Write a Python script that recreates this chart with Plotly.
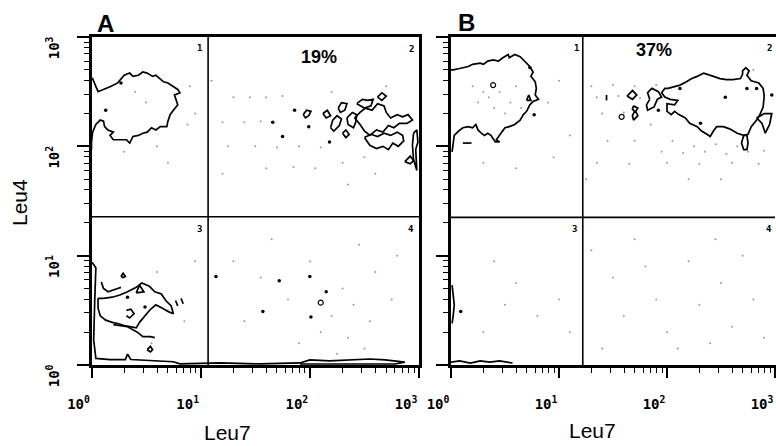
import plotly.graph_objects as go

# ---------------- data (log10 decade units of fluorescence) ----------------
# Panel A, quadrant 1 contour
A_Q1_X = [0.00, 0.01, 0.06, 0.11, 0.18, 0.24, 0.27, 0.30, 0.35, 0.38, 0.43, 0.47, 0.51, 0.56, 0.59, 0.63, 0.66, 0.70, 0.75, 0.79, 0.81, 0.76, 0.78, 0.79, 0.75, 0.72, 0.70, 0.69, 0.63, 0.59, 0.55, 0.51, 0.47, 0.43, 0.38, 0.35, 0.32, 0.26, 0.20, 0.17, 0.20, 0.15, 0.12, 0.11, 0.08, 0.04, 0.01, 0.00, 0.00]
A_Q1_Y = [2.62, 2.62, 2.50, 2.52, 2.55, 2.58, 2.62, 2.65, 2.67, 2.64, 2.65, 2.68, 2.67, 2.64, 2.65, 2.62, 2.59, 2.58, 2.55, 2.52, 2.49, 2.47, 2.41, 2.38, 2.33, 2.29, 2.23, 2.18, 2.18, 2.15, 2.17, 2.13, 2.12, 2.10, 2.09, 2.03, 2.06, 2.06, 2.06, 2.10, 2.13, 2.15, 2.18, 2.23, 2.24, 2.20, 2.13, 2.04, 1.97]

# Panel A, quadrant 2 fragmented contours
A_Q2_P1_X = [1.94, 1.97, 2.01, 1.99, 1.96, 1.94]
A_Q2_P1_Y = [2.29, 2.33, 2.32, 2.28, 2.26, 2.29]
A_Q2_P2_X = [2.12, 2.16, 2.19, 2.15, 2.12]
A_Q2_P2_Y = [2.30, 2.33, 2.28, 2.26, 2.30]
A_Q2_P3_X = [2.19, 2.21, 2.25, 2.29, 2.27, 2.22, 2.19]
A_Q2_P3_Y = [2.17, 2.24, 2.28, 2.25, 2.19, 2.14, 2.17]
A_Q2_P4_X = [2.26, 2.29, 2.34, 2.32, 2.28, 2.26]
A_Q2_P4_Y = [2.35, 2.40, 2.39, 2.33, 2.31, 2.35]
A_Q2_P5_X = [2.34, 2.39, 2.43, 2.42, 2.40, 2.35, 2.34]
A_Q2_P5_Y = [2.26, 2.31, 2.29, 2.22, 2.17, 2.20, 2.26]
A_Q2_P6_X = [2.43, 2.48, 2.53, 2.58, 2.56, 2.50, 2.43]
A_Q2_P6_Y = [2.39, 2.43, 2.42, 2.43, 2.37, 2.35, 2.39]
A_Q2_P7_X = [2.41, 2.46, 2.51, 2.57, 2.62, 2.68, 2.70, 2.74, 2.80, 2.85, 2.90, 2.94, 2.89, 2.82, 2.77, 2.72, 2.67, 2.61, 2.55, 2.50, 2.46, 2.41]
A_Q2_P7_Y = [2.26, 2.31, 2.35, 2.33, 2.39, 2.37, 2.31, 2.26, 2.29, 2.27, 2.29, 2.24, 2.21, 2.21, 2.17, 2.19, 2.13, 2.15, 2.10, 2.14, 2.20, 2.26]
A_Q2_P8_X = [2.50, 2.56, 2.62, 2.68, 2.74, 2.80, 2.85, 2.86, 2.81, 2.76, 2.72, 2.67, 2.61, 2.55, 2.50]
A_Q2_P8_Y = [2.08, 2.11, 2.09, 2.12, 2.10, 2.13, 2.10, 2.05, 2.00, 2.03, 1.97, 2.00, 1.98, 2.01, 2.08]
A_Q2_P9_X = [2.87, 2.92, 2.95, 2.92, 2.87]
A_Q2_P9_Y = [1.86, 1.91, 1.87, 1.84, 1.86]
A_Q2_P10_X = [2.95, 2.98, 2.99, 2.97, 2.98, 2.95, 2.94, 2.95]
A_Q2_P10_Y = [2.12, 2.15, 2.04, 1.97, 1.78, 1.88, 2.01, 2.12]
A_Q2_P11_X = [2.62, 2.66, 2.70, 2.66, 2.62]
A_Q2_P11_Y = [2.45, 2.49, 2.46, 2.42, 2.45]
A_Q2_P12_X = [2.30, 2.33, 2.36, 2.33, 2.30]
A_Q2_P12_Y = [2.12, 2.15, 2.11, 2.08, 2.12]

# Panel A, quadrant 3 contours
A_Q3_OUT_X = [0.005, 0.04, 0.03, 0.02, 0.04, 0.17, 0.31, 0.33, 0.36, 0.54, 0.75, 0.81, 1.18, 1.54, 1.91]
A_Q3_OUT_Y = [0.94, 0.89, 0.60, 0.23, 0.06, 0.05, 0.05, 0.10, 0.05, 0.04, 0.03, 0.01, 0.02, 0.01, 0.02]
A_Q3_BLOB_X = [0.06, 0.11, 0.19, 0.26, 0.33, 0.41, 0.46, 0.53, 0.58, 0.64, 0.68, 0.73, 0.75, 0.70, 0.65, 0.59, 0.54, 0.49, 0.44, 0.41, 0.35, 0.30, 0.24, 0.19, 0.13, 0.08, 0.06, 0.06]
A_Q3_BLOB_Y = [0.61, 0.61, 0.62, 0.64, 0.67, 0.71, 0.75, 0.72, 0.67, 0.65, 0.59, 0.54, 0.47, 0.49, 0.52, 0.55, 0.51, 0.45, 0.39, 0.34, 0.35, 0.36, 0.38, 0.39, 0.41, 0.45, 0.52, 0.61]
A_Q3_SQ_X = [0.09, 0.11, 0.15, 0.20, 0.24, 0.27]
A_Q3_SQ_Y = [0.76, 0.70, 0.67, 0.69, 0.70, 0.71]
A_Q3_LOW_X = [0.20, 0.33, 0.42, 0.47, 0.54, 0.58]
A_Q3_LOW_Y = [0.37, 0.35, 0.30, 0.26, 0.26, 0.25]
A_Q3_D1_X = [0.27, 0.29, 0.31, 0.29, 0.27]
A_Q3_D1_Y = [0.81, 0.84, 0.81, 0.80, 0.81]
A_Q3_TRI_X = [0.41, 0.44, 0.48, 0.41]
A_Q3_TRI_Y = [0.66, 0.73, 0.67, 0.66]
A_Q3_C_X = [0.32, 0.36, 0.39, 0.35, 0.32]
A_Q3_C_Y = [0.50, 0.51, 0.47, 0.43, 0.45]
A_Q3_D2_X = [0.51, 0.54, 0.56, 0.54, 0.51]
A_Q3_D2_Y = [0.14, 0.17, 0.14, 0.12, 0.14]
A_Q3_MARK_X = [0.77, 0.79, None, 0.82, 0.84]
A_Q3_MARK_Y = [0.59, 0.54, None, 0.61, 0.56]
A_Q4_STRIP_X = [1.91, 2.00, 2.18, 2.37, 2.55, 2.69, 2.78, 2.87, 2.78, 1.91]
A_Q4_STRIP_Y = [0.018, 0.046, 0.037, 0.046, 0.055, 0.046, 0.037, 0.027, 0.009, 0.009]

# Panel A isolated events (dark)
A_DOT_X = [0.27, 0.13, 0.33, 0.49, 1.14, 1.72, 2.00, 2.15, 1.57, 2.01, 1.86, 1.66, 1.99, 1.75, 2.18]
A_DOT_Y = [2.58, 2.33, 0.62, 0.53, 0.81, 0.77, 0.81, 0.67, 0.49, 0.44, 2.33, 2.22, 2.18, 2.09, 2.04]
A_RING_X = [2.10]
A_RING_Y = [0.57]
# Panel A faint events
A_FAINT_X = [0.90, 0.95, 0.88, 0.60, 0.30, 0.70, 0.50, 0.40, 1.30, 1.45, 1.60, 1.75, 1.20, 1.40, 1.55, 1.25, 1.50, 1.70, 1.90, 2.10, 1.60, 1.85, 2.05, 2.30, 2.50, 2.60, 2.35, 1.10, 1.20, 2.70, 2.20, 1.30, 1.55, 1.80, 2.00, 2.20, 2.30, 2.40, 2.55, 2.60, 2.35, 2.10, 1.90, 2.75, 2.50, 2.25, 1.40, 2.80, 2.45, 1.65, 0.60, 0.70, 0.55, 0.85, 0.95]
A_FAINT_Y = [2.55, 2.30, 2.20, 2.00, 1.95, 1.85, 2.40, 2.50, 2.45, 2.45, 2.45, 2.46, 2.22, 2.22, 2.23, 2.00, 2.00, 1.99, 2.00, 1.99, 1.80, 1.81, 1.80, 1.85, 1.90, 1.75, 1.65, 2.60, 1.75, 2.55, 2.50, 0.95, 0.80, 0.60, 0.95, 0.45, 0.70, 0.55, 0.40, 0.85, 0.25, 0.30, 0.20, 0.60, 0.15, 0.10, 0.40, 1.00, 1.10, 1.15, 0.85, 0.50, 0.20, 0.40, 0.95]

# Panel B, quadrant 1 contour
B_Q1_X = [0.00, 0.02, 0.07, 0.16, 0.20, 0.27, 0.30, 0.34, 0.39, 0.44, 0.48, 0.53, 0.54, 0.59, 0.64, 0.68, 0.73, 0.76, 0.74, 0.78, 0.79, 0.78, 0.81, 0.76, 0.73, 0.70, 0.67, 0.64, 0.59, 0.54, 0.50, 0.47, 0.44, 0.42, 0.45, 0.41, 0.37, 0.34, 0.31, 0.28, 0.25, 0.23, 0.20, 0.16, 0.11, 0.07, 0.03, 0.02, 0.01]
B_Q1_Y = [2.70, 2.70, 2.71, 2.73, 2.75, 2.76, 2.75, 2.78, 2.79, 2.78, 2.81, 2.84, 2.81, 2.84, 2.82, 2.78, 2.73, 2.68, 2.64, 2.59, 2.53, 2.47, 2.43, 2.41, 2.38, 2.32, 2.29, 2.24, 2.20, 2.18, 2.17, 2.13, 2.09, 2.06, 2.04, 2.04, 2.10, 2.12, 2.10, 2.12, 2.15, 2.20, 2.17, 2.18, 2.17, 2.14, 2.10, 2.04, 1.95]
B_Q1_DASH_X = [0.11, 0.19]
B_Q1_DASH_Y = [2.03, 2.03]
B_Q1_TRI_X = [0.70, 0.72, 0.74, 0.70]
B_Q1_TRI_Y = [2.42, 2.47, 2.42, 2.42]

# Panel B, quadrant 2 contours
B_Q2_BLOB_X = [2.01, 2.12, 2.18, 2.23, 2.28, 2.34, 2.43, 2.49, 2.55, 2.61, 2.68, 2.70, 2.70, 2.73, 2.76, 2.74, 2.78, 2.85, 2.89, 2.90, 2.89, 2.86, 2.83, 2.78, 2.75, 2.71, 2.65, 2.58, 2.52, 2.46, 2.43, 2.40, 2.37, 2.32, 2.28, 2.21, 2.17, 2.11, 2.07, 2.04, 2.00, 2.00, 2.07, 2.10, 2.03, 1.98, 1.95, 1.98, 2.01]
B_Q2_BLOB_Y = [2.53, 2.56, 2.59, 2.62, 2.64, 2.67, 2.64, 2.62, 2.61, 2.61, 2.62, 2.66, 2.69, 2.72, 2.69, 2.65, 2.60, 2.58, 2.53, 2.46, 2.36, 2.29, 2.24, 2.18, 2.11, 2.10, 2.12, 2.16, 2.18, 2.18, 2.14, 2.09, 2.11, 2.14, 2.18, 2.21, 2.26, 2.29, 2.32, 2.29, 2.32, 2.39, 2.38, 2.42, 2.43, 2.45, 2.49, 2.53, 2.53]
B_Q2_DROP_X = [2.71, 2.69, 2.71, 2.74, 2.75, 2.74, 2.71]
B_Q2_DROP_Y = [2.10, 2.03, 1.97, 1.97, 2.03, 2.10, 2.10]
B_Q2_LEAF_X = [2.83, 2.90, 2.97, 2.95, 2.91, 2.88, 2.83]
B_Q2_LEAF_Y = [2.26, 2.30, 2.30, 2.20, 2.12, 2.21, 2.26]
B_Q2_ARM_X = [1.84, 1.82, 1.86, 1.92, 1.95, 1.91, 1.88, 1.82, 1.81, 1.84]
B_Q2_ARM_Y = [2.43, 2.49, 2.53, 2.50, 2.45, 2.43, 2.36, 2.33, 2.38, 2.43]
B_Q2_DIA_X = [1.63, 1.68, 1.72, 1.68, 1.63]
B_Q2_DIA_Y = [2.46, 2.51, 2.47, 2.43, 2.46]
B_Q2_EIGHT_X = [1.69, 1.73, 1.71, 1.73, 1.69, 1.68, 1.70, 1.68, 1.69]
B_Q2_EIGHT_Y = [2.37, 2.35, 2.32, 2.28, 2.24, 2.28, 2.32, 2.34, 2.37]
B_Q2_BAR_X = [1.44, 1.44]
B_Q2_BAR_Y = [2.47, 2.42]
# Panel B, bottom / left edge contours
B_BOT_X = [0.00, 0.08, 0.18, 0.27, 0.36, 0.45, 0.57]
B_BOT_Y = [0.027, 0.037, 0.018, 0.037, 0.027, 0.037, 0.018]
B_LEFT_X = [0.01, 0.02, 0.03, 0.02, 0.01]
B_LEFT_Y = [0.73, 0.62, 0.55, 0.45, 0.38]

# Panel B isolated events
B_DOT_X = [0.73, 0.77, 2.12, 2.31, 2.54, 2.74, 2.83, 2.97, 1.92, 0.09]
B_DOT_Y = [2.72, 2.29, 2.53, 2.21, 2.45, 2.53, 2.53, 2.47, 2.33, 0.49]
B_RING_X = [0.39, 1.58]
B_RING_Y = [2.56, 2.27]
B_FAINT_X = [0.30, 0.35, 0.25, 0.45, 0.55, 0.40, 0.60, 0.50, 0.20, 0.65, 0.90, 1.00, 1.10, 0.95, 0.60, 0.30,
             1.30, 1.50, 1.70, 1.90, 1.35, 1.55, 1.75, 1.40, 1.60, 1.85, 2.05, 2.25, 2.45, 2.65, 1.45, 1.70, 1.95, 2.15, 2.35, 2.55, 2.75, 2.90, 1.35, 1.65, 2.00, 2.30, 2.60, 2.85, 2.20, 2.50, 1.25, 2.80,
             0.40, 0.60, 0.50, 0.80, 0.30, 1.00, 1.10, 1.30, 1.50, 1.60, 1.80, 1.90, 2.00, 2.20, 2.30, 2.50, 2.60, 2.70, 2.80, 2.90, 1.40, 2.10, 2.40, 1.70, 2.45]
B_FAINT_Y = [2.50, 2.45, 2.40, 2.50, 2.40, 2.35, 2.55, 2.30, 2.55, 2.35, 2.40, 2.60, 2.10, 1.90, 1.80, 1.85,
             2.55, 2.56, 2.55, 2.56, 2.45, 2.46, 2.44, 2.30, 2.31, 2.20, 2.05, 2.00, 2.02, 2.00, 2.05, 2.05, 1.95, 1.94, 1.95, 1.93, 1.95, 1.96, 1.85, 1.84, 1.85, 1.84, 1.85, 1.84, 1.70, 1.70, 1.70, 2.70,
             0.95, 0.75, 0.55, 0.45, 0.30, 0.60, 0.30, 1.05, 0.80, 0.45, 0.90, 0.60, 0.30, 0.95, 0.55, 0.75, 0.35, 1.00, 0.60, 0.25, 0.15, 0.15, 0.20, 1.15, 1.15]

# Quadrant gates (fluorescence units)
A_GATE_LEU7 = 11.7
A_GATE_LEU4 = 22.7
B_GATE_LEU7 = 16.6
B_GATE_LEU4 = 22.4
AXIS_MIN, AXIS_MAX = 1, 1000

# Text
PANEL_LABELS = ["A", "B"]
PCT_LABELS = ["19%", "37%"]
QUAD_LABELS = ["1", "2", "3", "4"]
TICK_VALS = [1, 10, 100, 1000]
TICK_TEXT = ["10<sup>0</sup>", "10<sup>1</sup>", "10<sup>2</sup>", "10<sup>3</sup>"]
MINOR_VALS = [m * d for d in (1, 10, 100) for m in range(2, 10)]
X_TITLE = "Leu7"
Y_TITLE = "Leu4"


def lin(v):
    return [None if a is None else 10 ** a for a in v]


W, H = 776, 446
fig = go.Figure()

A_LINES = [(A_Q1_X, A_Q1_Y), (A_Q2_P1_X, A_Q2_P1_Y), (A_Q2_P2_X, A_Q2_P2_Y), (A_Q2_P3_X, A_Q2_P3_Y),
           (A_Q2_P4_X, A_Q2_P4_Y), (A_Q2_P5_X, A_Q2_P5_Y), (A_Q2_P6_X, A_Q2_P6_Y), (A_Q2_P7_X, A_Q2_P7_Y),
           (A_Q2_P8_X, A_Q2_P8_Y), (A_Q2_P9_X, A_Q2_P9_Y), (A_Q2_P10_X, A_Q2_P10_Y),
           (A_Q2_P11_X, A_Q2_P11_Y), (A_Q2_P12_X, A_Q2_P12_Y),
           (A_Q3_OUT_X, A_Q3_OUT_Y), (A_Q3_BLOB_X, A_Q3_BLOB_Y), (A_Q3_SQ_X, A_Q3_SQ_Y), (A_Q3_LOW_X, A_Q3_LOW_Y),
           (A_Q3_D1_X, A_Q3_D1_Y), (A_Q3_TRI_X, A_Q3_TRI_Y), (A_Q3_C_X, A_Q3_C_Y), (A_Q3_D2_X, A_Q3_D2_Y),
           (A_Q3_MARK_X, A_Q3_MARK_Y), (A_Q4_STRIP_X, A_Q4_STRIP_Y)]
B_LINES = [(B_Q1_X, B_Q1_Y), (B_Q1_DASH_X, B_Q1_DASH_Y), (B_Q1_TRI_X, B_Q1_TRI_Y),
           (B_Q2_BLOB_X, B_Q2_BLOB_Y), (B_Q2_DROP_X, B_Q2_DROP_Y), (B_Q2_LEAF_X, B_Q2_LEAF_Y),
           (B_Q2_ARM_X, B_Q2_ARM_Y), (B_Q2_DIA_X, B_Q2_DIA_Y), (B_Q2_EIGHT_X, B_Q2_EIGHT_Y),
           (B_Q2_BAR_X, B_Q2_BAR_Y), (B_BOT_X, B_BOT_Y), (B_LEFT_X, B_LEFT_Y)]

for axes, faint_x, faint_y, lines, dx, dy, rx, ry, g7, g4 in [
        (("x", "y"), A_FAINT_X, A_FAINT_Y, A_LINES, A_DOT_X, A_DOT_Y, A_RING_X, A_RING_Y, A_GATE_LEU7, A_GATE_LEU4),
        (("x2", "y2"), B_FAINT_X, B_FAINT_Y, B_LINES, B_DOT_X, B_DOT_Y, B_RING_X, B_RING_Y, B_GATE_LEU7, B_GATE_LEU4)]:
    xa, ya = axes
    fig.add_trace(go.Scatter(x=lin(faint_x), y=lin(faint_y), mode="markers", xaxis=xa, yaxis=ya,
                             marker=dict(size=2, color="#9a9a9a"), hoverinfo="skip", showlegend=False))
    for lx, ly in lines:
        fig.add_trace(go.Scatter(x=lin(lx), y=lin(ly), mode="lines", xaxis=xa, yaxis=ya,
                                 line=dict(color="black", width=1.7), hoverinfo="skip", showlegend=False))
    fig.add_trace(go.Scatter(x=lin(dx), y=lin(dy), mode="markers", xaxis=xa, yaxis=ya,
                             marker=dict(size=3.5, color="black"), hoverinfo="skip", showlegend=False))
    fig.add_trace(go.Scatter(x=lin(rx), y=lin(ry), mode="markers", xaxis=xa, yaxis=ya,
                             marker=dict(size=5, color="white", line=dict(color="black", width=1.2)),
                             hoverinfo="skip", showlegend=False))
    # quadrant gates
    fig.add_trace(go.Scatter(x=[g7, g7, None, AXIS_MIN, AXIS_MAX], y=[AXIS_MIN, AXIS_MAX, None, g4, g4],
                             mode="lines", xaxis=xa, yaxis=ya, line=dict(color="black", width=1.6),
                             hoverinfo="skip", showlegend=False))

# ---------------- axes ----------------
tickfont = dict(family="DejaVu Sans Mono", size=14, color="black", weight="bold")
common = dict(type="log", showgrid=False, zeroline=False, showline=True, linecolor="black",
              linewidth=2.5, ticks="outside", tickcolor="black", tickwidth=1.8, automargin=False,
              tickvals=TICK_VALS, ticktext=TICK_TEXT, tickfont=tickfont,
              minor=dict(ticks="outside", tickvals=MINOR_VALS, ticklen=5, tickcolor="black",
                         tickwidth=1.4, showgrid=False))

xa_dom = [91.5 / W, 419 / W]
xb_dom = [451 / W, 1.0]
y_dom = [(H - 365) / H, (H - 37) / H]

fig.update_layout(
    width=W, height=H, margin=dict(l=0, r=0, t=0, b=0, autoexpand=False),
    paper_bgcolor="white", plot_bgcolor="white",
    xaxis=dict(common, domain=xa_dom, range=[0, 3], anchor="y", mirror=True, ticklen=10,
               ticklabelshift=-13, ticklabelstandoff=14),
    yaxis=dict(common, domain=y_dom, range=[0, 3], anchor="x", mirror=True, ticklen=12,
               tickangle=-90, ticklabelshift=13, ticklabelstandoff=12),
    xaxis2=dict(common, domain=xb_dom, range=[0, 3 + 1 / 108], anchor="y2", mirror=True, ticklen=10,
                ticklabelshift=-13, ticklabelstandoff=14),
    yaxis2=dict(common, domain=y_dom, range=[0, 3], anchor="x2", mirror=False, ticklen=12,
                showticklabels=False),
)


def px(x, y):
    return x / W, 1 - y / H


ann = []
sans = "Liberation Sans"
for lbl, (x, y) in zip(PANEL_LABELS, [(105, 23), (466, 22)]):
    ax, ay = px(x, y)
    ann.append(dict(x=ax, y=ay, text="<b>%s</b>" % lbl, font=dict(family=sans, size=24, color="black")))
for lbl, (x, y) in zip(PCT_LABELS, [(319, 57), (654, 50)]):
    ax, ay = px(x, y)
    ann.append(dict(x=ax, y=ay, text="<b>%s</b>" % lbl, font=dict(family=sans, size=18, color="black")))
quad_pos = [[(200, 48), (411, 49), (200, 229), (411, 229)],
            [(576, 48), (769, 48), (574, 229), (769, 229)]]
for panel in quad_pos:
    for lbl, (x, y) in zip(QUAD_LABELS, panel):
        ax, ay = px(x, y)
        ann.append(dict(x=ax, y=ay, text="<b>%s</b>" % lbl,
                        font=dict(family="DejaVu Sans Mono", size=9, color="black")))
for (x, y) in [(227, 432), (592, 430)]:
    ax, ay = px(x, y)
    ann.append(dict(x=ax, y=ay, text=X_TITLE, font=dict(family=sans, size=21, color="black")))
ax, ay = px(19, 203)
ann.append(dict(x=ax, y=ay, text=Y_TITLE, textangle=-90, font=dict(family=sans, size=21, color="black")))

for a in ann:
    a.update(xref="paper", yref="paper", showarrow=False, xanchor="center", yanchor="middle")
fig.update_layout(annotations=ann)

fig.write_html("out.html", config={"displayModeBar": False},
               post_script="document.body.style.margin='0px';document.body.style.overflow='hidden';")
